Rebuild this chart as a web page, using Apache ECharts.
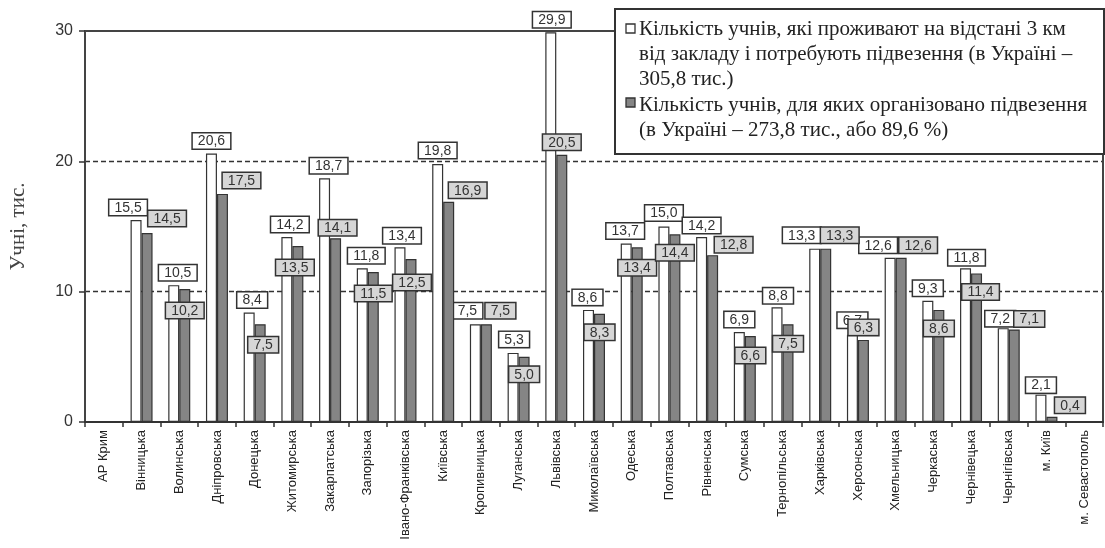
<!DOCTYPE html>
<html><head><meta charset="utf-8">
<script src="https://cdn.jsdelivr.net/npm/echarts@6/dist/echarts.min.js"></script>
<style>html,body{margin:0;padding:0;background:#fff}#c{width:1105px;height:548px}</style>
</head><body><div id="c"></div>
<script>
const categories = ['АР Крим','Вінницька','Волинська','Дніпровська','Донецька','Житомирська','Закарпатська','Запорізька','Івано-Франківська','Київська','Кропивницька','Луганська','Львівська','Миколаївська','Одеська','Полтавська','Рівненська','Сумська','Тернопільська','Харківська','Херсонська','Хмельницька','Черкаська','Чернівецька','Чернігівська','м. Київ','м. Севастополь'];
const needTransport = [null,15.5,10.5,20.6,8.4,14.2,18.7,11.8,13.4,19.8,7.5,5.3,29.9,8.6,13.7,15.0,14.2,6.9,8.8,13.3,6.7,12.6,9.3,11.8,7.2,2.1,null];
const organizedTransport = [null,14.5,10.2,17.5,7.5,13.5,14.1,11.5,12.5,16.9,7.5,5.0,20.5,8.3,13.4,14.4,12.8,6.6,7.5,13.3,6.3,12.6,8.6,11.4,7.1,0.4,null];
const yTicks = [0,10,20,30];
const yAxisTitle = 'Учні, тис.';
const legendName1 = ['Кількість учнів, які проживают на відстані 3 км','від закладу і потребують підвезення (в Україні –','305,8 тис.)'];
const legendName2 = ['Кількість учнів, для яких організовано підвезення','(в Україні – 273,8 тис., або 89,6 %)'];

// label box placement (style only): [dx, dy] of box bottom relative to bar top
const whiteLabelShift = [[0,0],[-8,-5],[4,-5],[0,-5],[3,-5],[3,-5],[4,-5],[4,-5],[2,-4],[0,-6],[-8,-6],[1,-6],[1,-5],[-1,-5],[-1,-5],[0,-6],[0,-4],[0,-5],[1,-4],[-13,-6],[0,-7],[-12,-5],[0,-5],[1,-3],[-3,-2],[0,-2],[0,0]];
const grayLabelShift = [[0,0],[20,-7],[0,29],[19,-6],[3,28],[-3,29],[2,-3],[0,29],[1,31],[19,-4],[14,-6],[0,25],[0,-5],[0,26],[0,28],[0,26],[21,-3],[0,27],[0,27],[14,-6],[0,-5],[17,-5],[0,26],[4,26],[15,-3],[18,-4],[0,0]];

const fmt = p => p.value == null ? '' : p.value.toFixed(1).replace('.', ',');
function build(vals, shifts){
  return vals.map((v,i)=>({value:v, label:{offset:shifts[i]}}));
}
const labelBase = {
  show:true, position:'top', distance:0, formatter:fmt,
  fontFamily:'Liberation Sans', fontSize:14, color:'#333',
  borderColor:'#333', borderWidth:1.5, padding:[1,5,0,5], lineHeight:14
};

const chart = echarts.init(document.getElementById('c'), null, {renderer:'canvas'});
chart.setOption({
  animation:false,
  backgroundColor:'#fff',
  grid:{left:84, right:2, top:31, bottom:126, containLabel:false},
  xAxis:[{
    type:'category', data:categories, position:'bottom',
    axisLine:{show:true, lineStyle:{color:'#333', width:2}},
    axisTick:{show:true, length:5, lineStyle:{color:'#333', width:1.5}},
    axisLabel:{rotate:90, interval:0, fontFamily:'Liberation Sans', fontSize:13, color:'#222', margin:8}
  },{
    type:'category', data:categories, position:'top',
    axisLine:{show:true, onZero:false, lineStyle:{color:'#444', width:2}},
    axisTick:{show:false}, axisLabel:{show:false}
  }],
  yAxis:[{
    type:'value', min:yTicks[0], max:yTicks[yTicks.length-1], interval:10,
    name:yAxisTitle, nameLocation:'middle', nameGap:56,
    nameTextStyle:{fontFamily:'Liberation Serif', fontSize:21, color:'#444'},
    axisLine:{show:true, lineStyle:{color:'#444', width:2}},
    axisTick:{show:true, length:6, lineStyle:{color:'#333', width:1.5}},
    axisLabel:{fontFamily:'Liberation Sans', fontSize:16, color:'#333', margin:12},
    splitLine:{show:true, lineStyle:{color:['rgba(0,0,0,0)','#333','#333','rgba(0,0,0,0)'], width:1.3, type:[5,3]}}
  },{
    type:'value', position:'right', min:yTicks[0], max:yTicks[yTicks.length-1], interval:10,
    axisLine:{show:true, onZero:false, lineStyle:{color:'#444', width:2}},
    axisTick:{show:false}, axisLabel:{show:false}, splitLine:{show:false}
  }],
  series:[{
    name:legendName1.join(' '), type:'bar', barWidth:11, barGap:'0%',
    data:build(needTransport, whiteLabelShift),
    itemStyle:{color:'#ffffff', borderColor:'#333', borderWidth:1.2},
    label:Object.assign({}, labelBase, {backgroundColor:'#ffffff'}),
    z:2
  },{
    name:legendName2.join(' '), type:'bar', barWidth:11, barGap:'0%',
    data:build(organizedTransport, grayLabelShift),
    itemStyle:{color:'#858585', borderColor:'#333', borderWidth:1.2},
    label:Object.assign({}, labelBase, {backgroundColor:'#d6d6d6'}),
    z:3
  }],
  graphic:[
    {type:'rect', z:100, shape:{x:615,y:9,width:489,height:145}, style:{fill:'#fff', stroke:'#333', lineWidth:2}},
    {type:'rect', z:101, shape:{x:626,y:24,width:9,height:9}, style:{fill:'#fff', stroke:'#333', lineWidth:1.3}},
    {type:'rect', z:101, shape:{x:626,y:98,width:9,height:9}, style:{fill:'#858585', stroke:'#333', lineWidth:1.3}},
    {type:'text', z:101, x:639, y:17, style:{text:legendName1.join('\n'), fontFamily:'Liberation Serif', fontSize:21, lineHeight:25, fill:'#222', verticalAlign:'top'}},
    {type:'text', z:101, x:639, y:93, style:{text:legendName2.join('\n'), fontFamily:'Liberation Serif', fontSize:21, lineHeight:25, fill:'#222', verticalAlign:'top'}}
  ]
});
</script></body></html>
